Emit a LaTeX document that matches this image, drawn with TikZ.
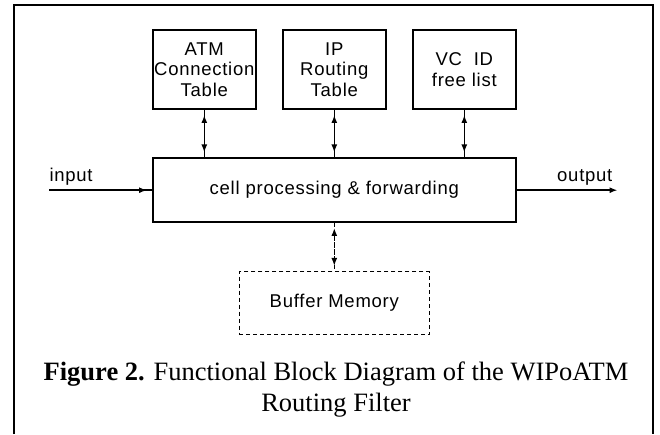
\documentclass[tikz,border=0pt]{standalone}
\usepackage{fontspec}
\usepackage{tikz}
\usetikzlibrary{arrows.meta}
\usetikzlibrary{positioning}
\newfontfamily\blockfont[LetterSpace=4]{Liberation Sans}
\newfontfamily\captionfont{Liberation Serif}

\begin{document}
\begin{tikzpicture}[x=1pt, y=-1pt,
	block/.style={draw, line width=1.5pt, inner sep=0pt, align=center, font=\blockfont\fontsize{18.5}{20.5}\selectfont},
	tablebox/.style={block, minimum width=103pt, minimum height=79pt},
	lbl/.style={inner sep=0pt, font=\blockfont\fontsize{18.5}{20.5}\selectfont},
	link/.style={draw, line width=1.5pt},
	both/.style={link, postaction={draw, {Latex[length=8pt,width=6pt]}-{Latex[length=8pt,width=6pt]}, shorten <=5pt, shorten >=5pt}},
	into/.style={link, postaction={draw, -{Latex[length=8pt,width=6pt]}, shorten >=5pt}}
]
\useasboundingbox (0,0) rectangle (660,434);
% frame (open at the bottom)
\draw[line width=2pt] (13.5,434) -- (13.5,5) -- (653,5) -- (653,434);

\node[block, minimum width=363pt, minimum height=64pt] (cell) at (334.3,190.2) {cell processing \& forwarding};
\node[tablebox, above right=47.5pt and 0pt of cell.north west] (atm) {ATM\\Connection\\Table};
\node[tablebox, above=47.5pt of cell.north] (ip) {IP\\Routing\\Table};
\node[tablebox, above left=47.5pt and 0pt of cell.north east] (vc) {VC\ \ ID\\free list};
\node[block, dash pattern=on 4pt off 3pt, minimum width=190pt, minimum height=63pt, below=48pt of cell.south] (buffer) {Buffer Memory};

\coordinate[left=102.7pt of cell.west] (in);
\coordinate[right=101pt of cell.east] (out);
\node[lbl, above right=5pt and 0pt of in] (inlbl) {input};
\node[lbl, above left=5pt and 5pt of out] (outlbl) {output};

%\path[->]
\draw[both] (atm.south) -- (atm.south |- cell.north);
\draw[both] (ip.south) -- (ip.south |- cell.north);
\draw[both] (vc.south) -- (vc.south |- cell.north);
\draw[both, dash pattern=on 4pt off 3pt] (cell.south) -- (buffer.north);
\draw[into] (in) -- (cell.west);
\draw[link, -{Latex[length=8pt,width=6pt]}] (cell.east) -- (out);

\node[inner sep=0pt, align=center, font=\captionfont\fontsize{26.5}{31.5}\selectfont, below=26pt of buffer.south, xshift=1.7pt] (caption)
	{\textbf{Figure 2.} Functional Block Diagram of the WIPoATM\\Routing Filter};
\end{tikzpicture}
\end{document}
